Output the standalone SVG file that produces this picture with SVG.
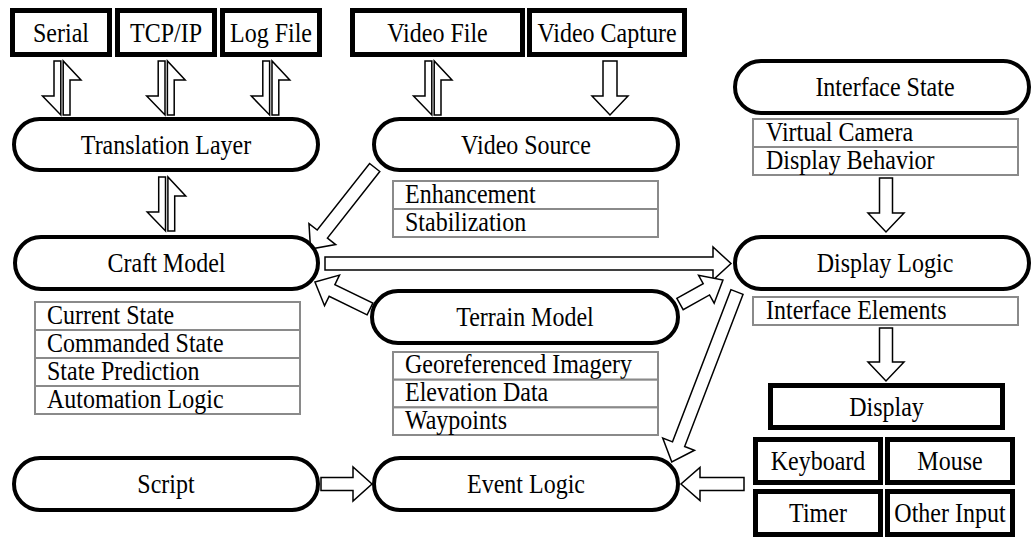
<svg xmlns="http://www.w3.org/2000/svg" width="1032" height="537" viewBox="0 0 1032 537">
<defs>
<style>
text{font-family:"Liberation Serif","Times New Roman",serif;font-size:24px;fill:#000;transform-box:fill-box;transform-origin:50% 50%;transform:scaleY(1.1)}
.c{text-anchor:middle}
.st{fill:#fff;stroke:#000;stroke-width:4}
.bx{fill:#fff;stroke:#000;stroke-width:5}
.ls{fill:#fff;stroke:#8a8a8a;stroke-width:2}
.ar{fill:#fff;stroke:#000;stroke-width:1.5;stroke-linejoin:miter}
</style>
<path id="hdn" d="M-1.2,0 V54 L-19.5,35 H-8 V0 Z"/>
<path id="hup" d="M1.2,54 V0 L19,19 H8 V54 Z"/>
</defs>
<rect width="1032" height="537" fill="#fff"/>

<g id="connectors">
  <g class="ar">
    <use href="#hdn" transform="translate(62,61)"/><use href="#hup" transform="translate(62,61)"/>
    <use href="#hdn" transform="translate(166.2,61)"/><use href="#hup" transform="translate(166.2,61)"/>
    <use href="#hdn" transform="translate(270.8,61)"/><use href="#hup" transform="translate(270.8,61)"/>
    <use href="#hdn" transform="translate(433,61)"/><use href="#hup" transform="translate(433,61)"/>
    <use href="#hdn" transform="translate(166.7,177)"/><use href="#hup" transform="translate(166.7,177)"/>
  </g>
  <path class="ar" d="M0,-7 H35 V-18 L54,0 L35,18 V7 H0 Z" transform="translate(610,61) rotate(90)"/>
  <path class="ar" d="M0,-6.5 H35 V-18 L54,0 L35,18 V6.5 H0 Z" transform="translate(886,178) rotate(90)"/>
  <path class="ar" d="M0,-6.5 H34 V-18 L53,0 L34,18 V6.5 H0 Z" transform="translate(886,328) rotate(90)"/>
  <path class="ar" d="M0,-6.5 H84.7 V-17 L103.7,0 L84.7,17 V6.5 H0 Z" transform="translate(374.7,167.5) rotate(128.2)"/>
  <path class="ar" d="M0,-6.5 H388 V-16.5 L406,0 L388,16.5 V6.5 H0 Z" transform="translate(325,263.5)"/>
  <path class="ar" d="M0,-6.5 H42.3 V-17 L61.3,0 L42.3,17 V6.5 H0 Z" transform="translate(370,309) rotate(206.1)"/>
  <path class="ar" d="M0,-6.5 H30.2 V-16 L49.2,0 L30.2,16 V6.5 H0 Z" transform="translate(680,304) rotate(-29.2)"/>
  <path class="ar" d="M0,-6.5 H163 V-17 L182,0 L163,17 V6.5 H0 Z" transform="translate(737,292) rotate(111)"/>
  <path class="ar" d="M0,-6.5 H32 V-17 L51,0 L32,17 V6.5 H0 Z" transform="translate(321,484)"/>
  <path class="ar" d="M0,-6.5 H44 V-16.5 L63,0 L44,16.5 V6.5 H0 Z" transform="translate(744,484) rotate(180)"/>
</g>

<g id="serial"><rect class="bx" x="12.5" y="10.5" width="97" height="44"/><text class="c" x="61" y="41">Serial</text></g>
<g id="tcpip"><rect class="bx" x="117.5" y="10.5" width="97" height="44"/><text class="c" x="166" y="41">TCP/IP</text></g>
<g id="logfile"><rect class="bx" x="222.5" y="10.5" width="97" height="44"/><text class="c" x="271" y="41">Log File</text></g>
<g id="videofile"><rect class="bx" x="352.5" y="10.5" width="170" height="44"/><text class="c" x="437.5" y="41">Video File</text></g>
<g id="videocapture"><rect class="bx" x="529.5" y="10.5" width="155" height="44"/><text class="c" x="607" y="41">Video Capture</text></g>

<g id="translation"><rect class="st" x="14" y="119" width="304" height="51" rx="25.5"/><text class="c" x="166" y="153">Translation Layer</text></g>

<g id="videosource"><rect class="st" x="374" y="119" width="304" height="51" rx="25.5"/><text class="c" x="526" y="153">Video Source</text>
  <rect class="ls" x="393" y="181" width="265" height="28"/><text x="405" y="202">Enhancement</text>
  <rect class="ls" x="393" y="209" width="265" height="28"/><text x="405" y="230">Stabilization</text>
</g>

<g id="interfacestate"><rect class="st" x="735" y="61" width="294" height="52" rx="26"/><text class="c" x="885" y="95.5">Interface State</text>
  <rect class="ls" x="753" y="119" width="265" height="28"/><text x="766" y="140">Virtual Camera</text>
  <rect class="ls" x="753" y="147" width="265" height="28"/><text x="766" y="168">Display Behavior</text>
</g>

<g id="craftmodel"><rect class="st" x="15" y="237" width="303" height="52" rx="26"/><text class="c" x="166.5" y="271.5">Craft Model</text>
  <rect class="ls" x="35" y="302" width="265" height="28"/><text x="47" y="323">Current State</text>
  <rect class="ls" x="35" y="330" width="265" height="28"/><text x="47" y="351">Commanded State</text>
  <rect class="ls" x="35" y="358" width="265" height="28"/><text x="47" y="379">State Prediction</text>
  <rect class="ls" x="35" y="386" width="265" height="28"/><text x="47" y="407">Automation Logic</text>
</g>

<g id="displaylogic"><rect class="st" x="735" y="237" width="294" height="52" rx="26"/><text class="c" x="885" y="271.5">Display Logic</text>
  <rect class="ls" x="753" y="297" width="265" height="28"/><text x="766" y="318">Interface Elements</text>
</g>

<g id="terrainmodel"><rect class="st" x="372" y="291" width="306" height="52" rx="26"/><text class="c" x="525" y="325.5">Terrain Model</text>
  <rect class="ls" x="393" y="352" width="265" height="27.7"/><text x="405" y="372.5">Georeferenced Imagery</text>
  <rect class="ls" x="393" y="379.7" width="265" height="27.7"/><text x="405" y="400.2">Elevation Data</text>
  <rect class="ls" x="393" y="407.4" width="265" height="27.6"/><text x="405" y="427.9">Waypoints</text>
</g>

<g id="display"><rect class="bx" x="770.5" y="385.5" width="232" height="42"/><text class="c" x="886.5" y="415">Display</text></g>
<g id="keyboard"><rect class="bx" x="755.5" y="439.5" width="125" height="43"/><text class="c" x="818" y="469.5">Keyboard</text></g>
<g id="mouse"><rect class="bx" x="887.5" y="439.5" width="125" height="43"/><text class="c" x="950" y="469.5">Mouse</text></g>
<g id="timer"><rect class="bx" x="755.5" y="491.5" width="125" height="43"/><text class="c" x="818" y="521.5">Timer</text></g>
<g id="otherinput"><rect class="bx" x="887.5" y="491.5" width="125" height="43"/><text class="c" x="950" y="521.5">Other Input</text></g>

<g id="script"><rect class="st" x="14" y="458" width="304" height="52" rx="26"/><text class="c" x="166" y="492.5">Script</text></g>
<g id="eventlogic"><rect class="st" x="374" y="458" width="304" height="52" rx="26"/><text class="c" x="526" y="492.5">Event Logic</text></g>
</svg>
